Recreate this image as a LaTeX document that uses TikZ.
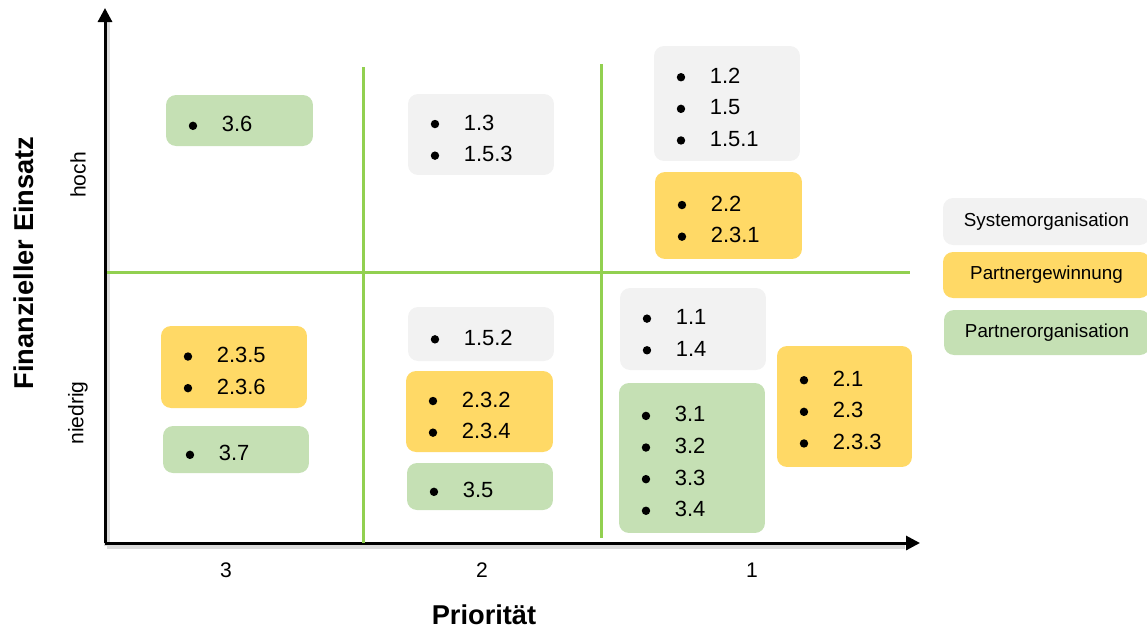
\documentclass[tikz,border=0pt]{standalone}
\usepackage{fontspec}
\setmainfont{Liberation Sans}
\usetikzlibrary{arrows.meta}

\definecolor{sysgray}{HTML}{F2F2F2}
\definecolor{gewgelb}{HTML}{FFD966}
\definecolor{orggruen}{HTML}{C5E0B4}
\definecolor{gridgreen}{HTML}{92D050}

% one bulleted entry: round bullet, gap, text
\newcommand\entry[1]{\tikz[baseline=0pt]\fill (0,3.4pt) circle (2.4pt);\hspace{14pt}#1}

\begin{document}
\begin{tikzpicture}[x=0.02cm, y=-0.02cm,
  card/.style n args={3}{fill=#1, draw=none, rounded corners=2mm,
    minimum width=#2*0.2mm, minimum height=#3*0.2mm,
    inner xsep=4.55mm, inner ysep=0pt, text width=#2*0.2mm-9.1mm,
    text height=13pt, align=left, font=\fontsize{12.5}{18}\selectfont},
  legendcard/.style n args={3}{fill=#1, draw=none, rounded corners=2mm,
    minimum width=#2*0.2mm, minimum height=#3*0.2mm,
    inner sep=0pt, font=\fontsize{10.7}{12}\selectfont},
  axis/.style={line width=0.6mm, -{Triangle[length=2.8mm, width=2.8mm]}},
  axshadow/.style={line width=1.2mm, draw=black!14},
  grid/.style={line width=0.6mm, draw=gridgreen},
  tick/.style={font=\fontsize{12}{14}\selectfont},
  axtitle/.style={font=\bfseries\fontsize{15.5}{18}\selectfont}]

\useasboundingbox (0,0) rectangle (1147,630);

% axes
\coordinate (O) at (105,543);
\coordinate (ytip) at (105,8);
\coordinate (xtip) at (920,543);
\coordinate (Os) at (107,546);
\coordinate (ytips) at (107,20);
\coordinate (xtips) at (905,546);
\draw[axshadow] (Os) -- (ytips);
\draw[axshadow] (Os) -- (xtips);
\draw[axis] (O) -- (ytip);
\draw[axis] (O) -- (xtip);

% quadrant lines
\coordinate (hl) at (107,272);
\coordinate (hr) at (910,272);
\coordinate (v1t) at (363,67);
\coordinate (v1b) at (363,543);
\coordinate (v2t) at (601,64);
\coordinate (v2b) at (601,538);
\draw[grid] (hl) -- (hr);
\draw[grid] (v1t) -- (v1b);
\draw[grid] (v2t) -- (v2b);

% measure cards
\node[card={orggruen}{147}{51}] (b36) at (239.5,120.5) {\entry{3.6}};
\node[card={sysgray}{146}{81}] (b13) at (481,134.5) {\entry{1.3}\\\entry{1.5.3}};
\node[card={sysgray}{146}{115}] (b12) at (727,103.5) {\entry{1.2}\\\entry{1.5}\\\entry{1.5.1}};
\node[card={gewgelb}{147}{87}] (b22) at (728.5,215.5) {\entry{2.2}\\\entry{2.3.1}};
\node[card={sysgray}{146}{54}] (b152) at (481,334) {\entry{1.5.2}};
\node[card={gewgelb}{147}{81}] (b232) at (479.5,411.5) {\entry{2.3.2}\\\entry{2.3.4}};
\node[card={orggruen}{146}{47}] (b35) at (480,486.5) {\entry{3.5}};
\node[card={gewgelb}{146}{82}] (b235) at (234,367) {\entry{2.3.5}\\\entry{2.3.6}};
\node[card={orggruen}{146}{47}] (b37) at (236,449.5) {\entry{3.7}};
\node[card={sysgray}{146}{82}] (b11) at (693,329) {\entry{1.1}\\\entry{1.4}};
\node[card={orggruen}{146}{150}] (b31) at (692,458) {\entry{3.1}\\\entry{3.2}\\\entry{3.3}\\\entry{3.4}};
\node[card={gewgelb}{135}{121}] (b21) at (844.5,406.5) {\entry{2.1}\\\entry{2.3}\\\entry{2.3.3}};

% legend
\node[legendcard={sysgray}{207}{47}] (lsys) at (1046.5,221.5) {Systemorganisation};
\node[legendcard={gewgelb}{207}{46}] (lgew) at (1046.5,275) {Partnergewinnung};
\node[legendcard={orggruen}{206}{45}] (lorg) at (1047,332.5) {Partnerorganisation};

% axis labels
\node[tick] (p3) at (226,570) {3};
\node[tick] (p2) at (482,570) {2};
\node[tick] (p1) at (752,570) {1};
\node[tick, rotate=90] (hoch) at (78,175) {hoch};
\node[tick, rotate=90] (niedrig) at (78,413) {niedrig};
\node[axtitle] (xtitle) at (484,615) {Priorität};
\node[axtitle, rotate=90] (ytitle) at (24,263) {Finanzieller Einsatz};

\end{tikzpicture}
\end{document}
